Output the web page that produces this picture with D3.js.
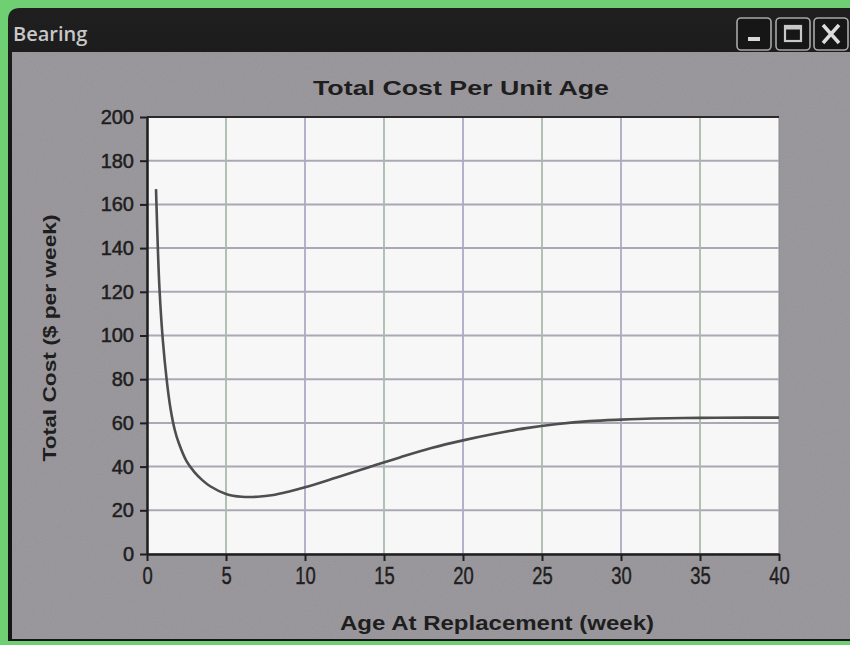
<!DOCTYPE html>
<html>
<head>
<meta charset="utf-8">
<script src="https://cdn.jsdelivr.net/npm/d3@7.9.0/dist/d3.min.js"></script>
<style>
  html, body { margin: 0; padding: 0; background: #6fcf73; }
  svg { display: block; }
  .tick text { fill: #1e1e1e; }
</style>
</head>
<body>
<div id="chart"></div>
<script>
// values
const ages = [0.57, 0.7, 0.8, 1.0, 1.25, 1.5, 1.75, 2.0, 2.5, 3.0, 3.5, 4.0, 5.0, 6.0, 7.0, 8.0, 9.0, 10, 12, 14, 16, 18, 20, 22, 24, 26, 28, 30, 32, 35, 38, 40];
const costs = [167, 137, 120, 98, 79.5, 66, 57, 51, 42.5, 37.5, 33.8, 31, 27.5, 26.2, 26.2, 27, 28.6, 30.5, 35, 39.6, 44.2, 48.5, 52, 55, 57.6, 59.5, 60.8, 61.5, 62, 62.3, 62.4, 62.4];
const xTickValues = [0, 5, 10, 15, 20, 25, 30, 35, 40];
const yTickValues = [0, 20, 40, 60, 80, 100, 120, 140, 160, 180, 200];

const windowTitle = 'Bearing';
const chartTitle = 'Total Cost Per Unit Age';
const xLabel = 'Age At Replacement (week)';
const yLabel = 'Total Cost ($ per week)';

const width = 850;
const height = 645;
const plot = { left: 147, right: 779, top: 117, bottom: 554 };

const svg = d3
  .select('#chart')
  .append('svg')
  .attr('width', width)
  .attr('height', height);

// window frame
const defs = svg.append('defs');
const barGrad = defs.append('linearGradient').attr('id', 'bar').attr('x1', 0).attr('y1', 0).attr('x2', 0).attr('y2', 1);
barGrad.append('stop').attr('offset', '0%').attr('stop-color', '#1f1f1f');
barGrad.append('stop').attr('offset', '45%').attr('stop-color', '#0e0e0e');
barGrad.append('stop').attr('offset', '100%').attr('stop-color', '#161616');

const noise = defs.append('filter').attr('id', 'grain').attr('x', 0).attr('y', 0).attr('width', 1).attr('height', 1);
noise.append('feTurbulence').attr('type', 'fractalNoise').attr('baseFrequency', 0.9).attr('numOctaves', 2).attr('seed', 3);
noise.append('feColorMatrix').attr('values', '0 0 0 0 0.5  0 0 0 0 0.48  0 0 0 0 0.53  0 0 0 0.35 0');
noise.append('feComposite').attr('in2', 'SourceGraphic').attr('operator', 'in');

svg.append('path')
  .attr('d', 'M8,20 Q8,8 20,8 L850,8 L850,641 L8,641 Z')
  .attr('fill', 'url(#bar)');

svg.append('rect')
  .attr('x', 12).attr('y', 52)
  .attr('width', width - 12).attr('height', 587)
  .attr('fill', '#959397');

svg.append('rect')
  .attr('x', 12).attr('y', 52)
  .attr('width', width - 12).attr('height', 587)
  .attr('fill', '#959397')
  .attr('filter', 'url(#grain)')
  .attr('opacity', 0.6);

svg.append('text')
  .attr('x', 13).attr('y', 41)
  .attr('fill', '#c8c8c8')
  .style('font-family', '"Open Sans", "DejaVu Sans", sans-serif')
  .style('font-size', '20px')
  .style('font-weight', '600')
  .text(windowTitle);

const buttons = [
  { x: 737, kind: 'min' },
  { x: 776, kind: 'max' },
  { x: 814, kind: 'close' },
];
const btn = svg.append('g').attr('stroke', '#a8a8a8').attr('fill', 'none');
buttons.forEach((b) => {
  btn.append('rect')
    .attr('x', b.x).attr('y', 18)
    .attr('width', 34).attr('height', 32)
    .attr('rx', 4)
    .attr('fill', '#161616')
    .attr('stroke-width', 1.6);
  if (b.kind === 'min') {
    btn.append('rect').attr('x', b.x + 11).attr('y', 37).attr('width', 12).attr('height', 4)
      .attr('fill', '#d8d8d8').attr('stroke', 'none');
  } else if (b.kind === 'max') {
    btn.append('rect').attr('x', b.x + 9).attr('y', 26).attr('width', 16).attr('height', 15)
      .attr('stroke', '#c8c8c8').attr('stroke-width', 2.2);
    btn.append('line').attr('x1', b.x + 9).attr('x2', b.x + 25).attr('y1', 28).attr('y2', 28)
      .attr('stroke', '#c8c8c8').attr('stroke-width', 3);
  } else {
    btn.append('path')
      .attr('d', `M${b.x + 9},25 L${b.x + 25},43 M${b.x + 25},25 L${b.x + 9},43`)
      .attr('stroke', '#dcdcdc').attr('stroke-width', 3.5);
  }
});

// chart
const x = d3.scaleLinear().domain([0, 40]).range([plot.left, plot.right]);
const y = d3.scaleLinear().domain([0, 200]).range([plot.bottom, plot.top]);

svg.append('rect')
  .attr('x', plot.left).attr('y', plot.top)
  .attr('width', plot.right - plot.left).attr('height', plot.bottom - plot.top)
  .attr('fill', '#f7f7f8')
  .attr('stroke', '#8a8a8a')
  .attr('stroke-width', 1);

svg.append('g')
  .attr('class', 'grid-y')
  .selectAll('line')
  .data(yTickValues.filter((d) => d > 0 && d < 200))
  .join('line')
  .attr('x1', plot.left).attr('x2', plot.right)
  .attr('y1', (d) => y(d)).attr('y2', (d) => y(d))
  .attr('stroke', '#aba8b4')
  .attr('stroke-width', 2);

svg.append('g')
  .attr('class', 'grid-x')
  .selectAll('line')
  .data(xTickValues.filter((d) => d > 0 && d < 40))
  .join('line')
  .attr('x1', (d) => x(d)).attr('x2', (d) => x(d))
  .attr('y1', plot.top).attr('y2', plot.bottom)
  .attr('stroke', (d, i) => (i % 2 === 0 ? '#a9baad' : '#acaac4'))
  .attr('stroke-width', 1.8);

// top border
svg.append('line')
  .attr('x1', plot.left).attr('x2', plot.right)
  .attr('y1', plot.top).attr('y2', plot.top)
  .attr('stroke', '#2a2a2a').attr('stroke-width', 2);

const line = d3
  .line()
  .x((d) => x(d[0]))
  .y((d) => y(d[1]))
  .curve(d3.curveCatmullRom.alpha(0.5));

svg.append('path')
  .datum(d3.zip(ages, costs))
  .attr('fill', 'none')
  .attr('stroke', '#4e4e4e')
  .attr('stroke-width', 2.6)
  .attr('d', line);

const xAxis = svg.append('g')
  .attr('transform', `translate(0,${plot.bottom})`)
  .call(d3.axisBottom(x).tickValues(xTickValues).tickSize(7).tickSizeOuter(0));

xAxis.select('.domain').attr('stroke', '#1e1e1e').attr('stroke-width', 2.5);
xAxis.selectAll('.tick line').attr('stroke', '#1e1e1e').attr('stroke-width', 2);
xAxis.selectAll('.tick text')
  .attr('y', 14)
  .attr('dy', '0.71em')
  .attr('transform', 'scale(0.8,1)')
  .attr('stroke', '#1e1e1e')
  .attr('stroke-width', 0.4)
  .style('font-family', '"Liberation Sans", Arial, sans-serif')
  .style('font-size', '23px');

const yAxis = svg.append('g')
  .attr('transform', `translate(${plot.left},0)`)
  .call(d3.axisLeft(y).tickValues(yTickValues).tickSize(7).tickSizeOuter(0));

yAxis.select('.domain').attr('stroke', '#1e1e1e').attr('stroke-width', 2.5);
yAxis.selectAll('.tick line').attr('stroke', '#1e1e1e').attr('stroke-width', 2);
yAxis.selectAll('.tick text')
  .attr('x', -13)
  .attr('stroke', '#1e1e1e')
  .attr('stroke-width', 0.5)
  .style('font-family', '"Liberation Sans", Arial, sans-serif')
  .style('font-size', '20px');

svg.append('text')
  .attr('x', 461).attr('y', 95)
  .attr('text-anchor', 'middle')
  .attr('fill', '#1e1e1e')
  .attr('textLength', 296)
  .attr('lengthAdjust', 'spacingAndGlyphs')
  .style('font-family', '"Liberation Sans", Arial, sans-serif')
  .style('font-weight', 'bold')
  .style('font-size', '21px')
  .text(chartTitle);

svg.append('text')
  .attr('x', 497).attr('y', 630)
  .attr('text-anchor', 'middle')
  .attr('fill', '#1e1e1e')
  .attr('textLength', 314)
  .attr('lengthAdjust', 'spacingAndGlyphs')
  .style('font-family', '"Liberation Sans", Arial, sans-serif')
  .style('font-weight', 'bold')
  .style('font-size', '21px')
  .text(xLabel);

svg.append('text')
  .attr('transform', 'translate(56,338) rotate(-90)')
  .attr('text-anchor', 'middle')
  .attr('fill', '#1e1e1e')
  .attr('textLength', 247)
  .attr('lengthAdjust', 'spacingAndGlyphs')
  .style('font-family', '"Liberation Sans", Arial, sans-serif')
  .style('font-weight', 'bold')
  .style('font-size', '19px')
  .text(yLabel);
</script>
</body>
</html>
